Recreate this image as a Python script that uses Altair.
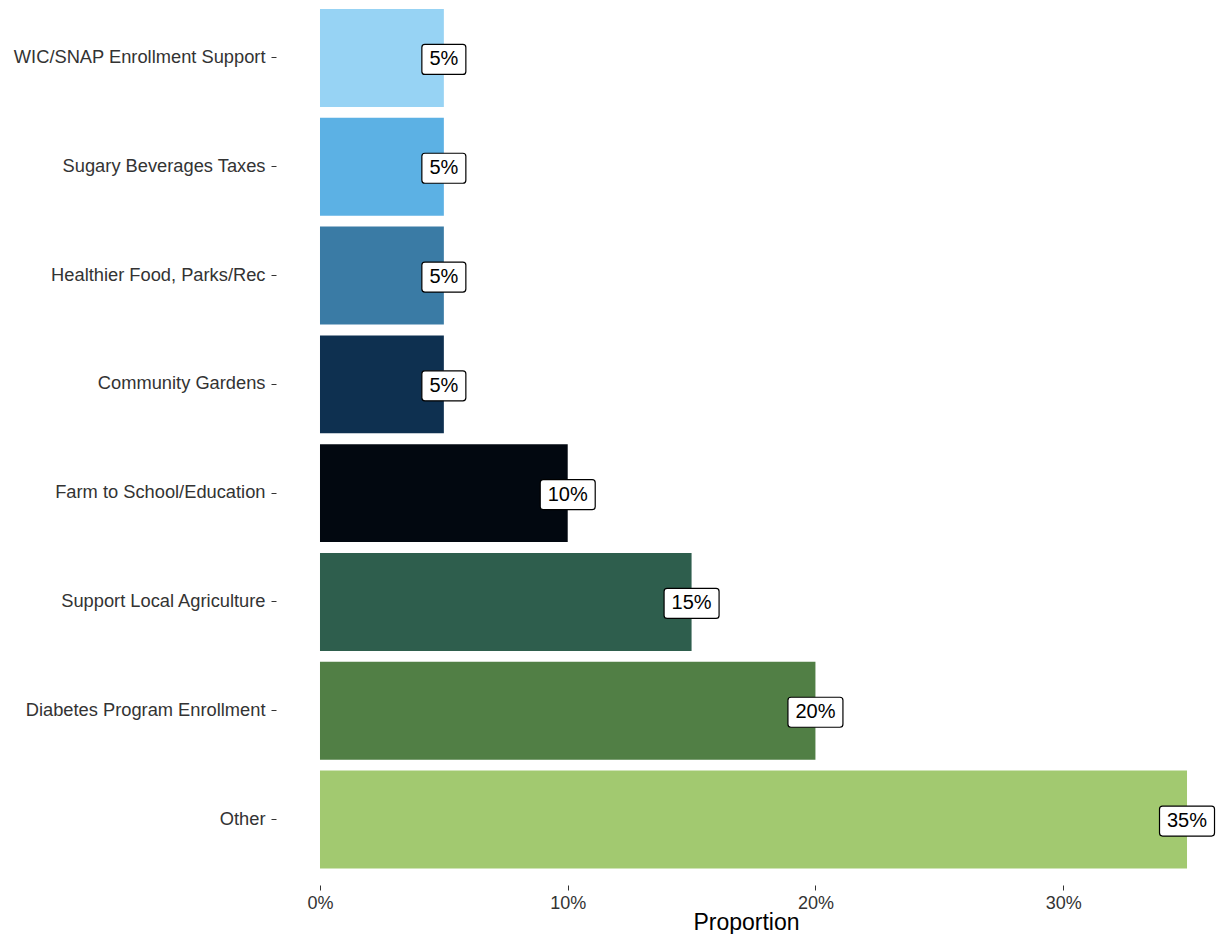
import altair as alt
import pandas as pd

categories = [
    "WIC/SNAP Enrollment Support",
    "Sugary Beverages Taxes",
    "Healthier Food, Parks/Rec",
    "Community Gardens",
    "Farm to School/Education",
    "Support Local Agriculture",
    "Diabetes Program Enrollment",
    "Other",
]
proportions = [0.05, 0.05, 0.05, 0.05, 0.10, 0.15, 0.20, 0.35]
bar_colors = [
    "#97D3F4",
    "#5CB1E4",
    "#3A7BA5",
    "#0E3050",
    "#020810",
    "#2E5E4D",
    "#517F45",
    "#A2C970",
]
x_ticks = [0.0, 0.1, 0.2, 0.3]

df = pd.DataFrame({"category": categories, "proportion": proportions})

FONT = "Liberation Sans"

y_enc = alt.Y(
    "category:N",
    sort=categories,
    scale=alt.Scale(paddingInner=0.1, paddingOuter=0.0092),
    axis=alt.Axis(
        title=None,
        domain=False,
        ticks=True,
        tickSize=5,
        tickColor="#333333",
        labelFontSize=18.3,
        labelColor="#333333",
        labelFont=FONT,
        labelPadding=6,
        labelLimit=0,
    ),
)
x_scale = alt.Scale(domain=[-0.01776, 0.3617], nice=False, zero=False)
x_enc = alt.X(
    "proportion:Q",
    scale=x_scale,
    axis=alt.Axis(
        values=x_ticks,
        format=".0%",
        title="Proportion",
        grid=False,
        domain=False,
        tickSize=5,
        tickColor="#333333",
        offset=15.5,
        labelFontSize=18,
        labelFont=FONT,
        labelColor="#333333",
        labelPadding=4,
        titleFontSize=23,
        titleFont=FONT,
        titleFontWeight="normal",
        titleColor="black",
        titleY=44.5,
        titleBaseline="alphabetic",
    ),
)

base = alt.Chart(df)

bars = base.mark_bar().encode(
    x=x_enc,
    x2=alt.datum(0),
    y=y_enc,
    color=alt.Color(
        "category:N",
        scale=alt.Scale(domain=categories, range=bar_colors),
        legend=None,
    ),
)

labelled = base.transform_calculate(label="format(datum.proportion, '.0%')")

box_short = labelled.transform_filter("length(datum.label) <= 2").mark_bar(
    height=30, xOffset=-22, x2Offset=22, cornerRadius=3,
    fill="white", stroke="black", strokeWidth=1.2, yOffset=1.5,
).encode(
    x=alt.X("proportion:Q", scale=x_scale),
    x2="proportion:Q",
    y=alt.Y("category:N", sort=categories),
)
box_long = labelled.transform_filter("length(datum.label) > 2").mark_bar(
    height=30, xOffset=-27.5, x2Offset=27.5, cornerRadius=3,
    fill="white", stroke="black", strokeWidth=1.2, yOffset=1.5,
).encode(
    x=alt.X("proportion:Q", scale=x_scale),
    x2="proportion:Q",
    y=alt.Y("category:N", sort=categories),
)
texts = labelled.mark_text(
    align="center", baseline="middle", fontSize=20, font=FONT, color="black", dy=1.5,
).encode(
    x=alt.X("proportion:Q", scale=x_scale),
    y=alt.Y("category:N", sort=categories),
    text="label:N",
)

chart = (
    alt.layer(bars, box_short, box_long, texts)
    .properties(
        width=940,
        height=861.5,
        autosize=alt.AutoSizeParams(type="none"),
        padding={"left": 268, "top": 0, "right": 0, "bottom": 64.5},
        background="white",
    )
    .configure_view(stroke=None)
)

chart.save("out.html", embed_options={"renderer": "svg", "actions": False})
